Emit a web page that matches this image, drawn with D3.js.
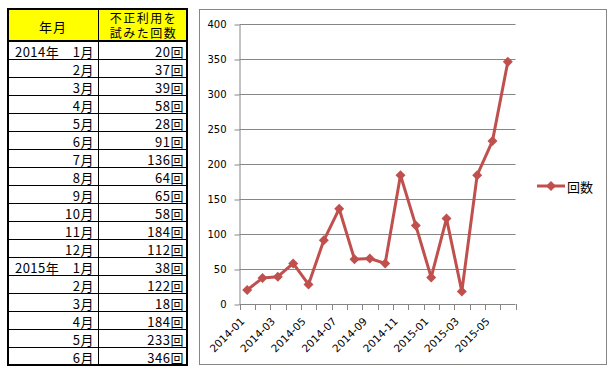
<!DOCTYPE html>
<html lang="ja">
<meta charset="utf-8">
<style>
  body { margin: 0; background: #fff; }
  svg { display: block; }
</style>
<body>
<div id="my_dataviz"></div>

<script src="https://d3js.org/d3.v7.min.js"></script>
<script>

// data
var months = ["2014-01", "2014-02", "2014-03", "2014-04", "2014-05", "2014-06",
              "2014-07", "2014-08", "2014-09", "2014-10", "2014-11", "2014-12",
              "2015-01", "2015-02", "2015-03", "2015-04", "2015-05", "2015-06"]
var rowLabels = ["2014年　1月", "2月", "3月", "4月", "5月", "6月", "7月", "8月", "9月",
                 "10月", "11月", "12月", "2015年　1月", "2月", "3月", "4月", "5月", "6月"]
var counts = [20, 37, 39, 58, 28, 91, 136, 64, 65, 58, 184, 112, 38, 122, 18, 184, 233, 346]
var yTicks = [0, 50, 100, 150, 200, 250, 300, 350, 400]
var seriesName = "回数"

var red = "#C0504D", grid = "#868686"
var jp = "'Noto Sans CJK JP', sans-serif"

var svg = d3.select("#my_dataviz")
  .append("svg")
    .attr("width", 616)
    .attr("height", 375)

// ---------- table ----------
var tbl = {left: 8, right: 187, top: 9, head: 41, bottom: 365, mid: 98}
var rowH = (tbl.bottom - tbl.head) / rowLabels.length

var t = svg.append("g")

t.append("rect")
  .attr("x", tbl.left).attr("y", tbl.top)
  .attr("width", tbl.right - tbl.left).attr("height", tbl.head - tbl.top)
  .attr("fill", "#FFFF00")

// row lines
rowLabels.forEach(function(d, i) {
  if (i == 0) return
  var y = Math.round(tbl.head + i * rowH) + 0.5
  t.append("line")
    .attr("x1", tbl.left).attr("x2", tbl.right)
    .attr("y1", y).attr("y2", y)
    .attr("stroke", "#000").attr("stroke-width", 1)
})
t.append("line")
  .attr("x1", tbl.left).attr("x2", tbl.right)
  .attr("y1", tbl.head).attr("y2", tbl.head)
  .attr("stroke", "#000").attr("stroke-width", 2)
t.append("line")
  .attr("x1", tbl.mid + 0.5).attr("x2", tbl.mid + 0.5)
  .attr("y1", tbl.top).attr("y2", tbl.bottom)
  .attr("stroke", "#000").attr("stroke-width", 1)
t.append("rect")
  .attr("x", tbl.left).attr("y", tbl.top)
  .attr("width", tbl.right - tbl.left).attr("height", tbl.bottom - tbl.top)
  .attr("fill", "none").attr("stroke", "#000").attr("stroke-width", 2)

// header text
t.append("text")
  .attr("x", (tbl.left + tbl.mid) / 2).attr("y", 26)
  .attr("text-anchor", "middle").attr("dominant-baseline", "central")
  .style("font-family", jp).style("font-size", "13px")
  .style("letter-spacing", "1px")
  .text("年月")
t.selectAll(".hd2")
  .data(["不正利用を", "試みた回数"])
  .enter().append("text")
    .attr("x", (tbl.mid + tbl.right) / 2 + 1)
    .attr("y", function(d, i) { return 17 + i * 15.5 })
    .attr("text-anchor", "middle").attr("dominant-baseline", "central")
    .style("font-family", jp).style("font-size", "12px")
    .style("letter-spacing", "1.5px")
    .text(function(d) { return d })

// body text
t.selectAll(".lbl")
  .data(rowLabels)
  .enter().append("text")
    .attr("x", 94)
    .attr("y", function(d, i) { return tbl.head + (i + 0.5) * rowH + 1 })
    .attr("text-anchor", "end").attr("dominant-baseline", "central")
    .style("font-family", jp).style("font-size", "13px")
    .style("letter-spacing", "0.5px")
    .text(function(d) { return d })
t.selectAll(".val")
  .data(counts)
  .enter().append("text")
    .attr("x", 184)
    .attr("y", function(d, i) { return tbl.head + (i + 0.5) * rowH + 1 })
    .attr("text-anchor", "end").attr("dominant-baseline", "central")
    .style("font-family", jp).style("font-size", "13px")
    .style("letter-spacing", "0.5px")
    .text(function(d) { return d + "回" })

// ---------- chart ----------
svg.append("rect")
  .attr("x", 199.5).attr("y", 9.5)
  .attr("width", 407).attr("height", 355)
  .attr("fill", "#fff").attr("stroke", grid).attr("stroke-width", 1)

var plot = {left: 239.5, right: 515.5, top: 24, bottom: 304}

var x = d3.scaleBand()
  .domain(months)
  .range([plot.left, plot.right])

var y = d3.scaleLinear()
  .domain([0, 400])
  .range([plot.bottom, plot.top])

var c = svg.append("g")

// gridlines
c.selectAll(".grid")
  .data(yTicks.slice(1))
  .enter().append("line")
    .attr("x1", plot.left).attr("x2", plot.right)
    .attr("y1", function(d) { return Math.round(y(d)) + 0.5 })
    .attr("y2", function(d) { return Math.round(y(d)) + 0.5 })
    .attr("stroke", grid)

// y axis
var yAxis = c.append("g")
  .attr("transform", "translate(" + plot.left + ",0.5)")
  .call(d3.axisLeft(y).tickValues(yTicks).tickSize(5).tickPadding(8).tickSizeOuter(0))
yAxis.select(".domain").attr("stroke", grid)
yAxis.selectAll(".tick line").attr("stroke", grid)
yAxis.selectAll("text")
  .style("font-family", "'DejaVu Sans', sans-serif").style("font-size", "10px")
  .attr("fill", "#000")

// x axis: ticks at band edges, labels every other month
var edges = months.map(function(m) { return x(m) }).concat([plot.right])
var xg = c.append("g")
xg.append("line")
  .attr("x1", plot.left).attr("x2", plot.right)
  .attr("y1", y(0) + 0.5).attr("y2", y(0) + 0.5)
  .attr("stroke", grid)
xg.selectAll(".xt")
  .data(edges)
  .enter().append("line")
    .attr("x1", function(d) { return Math.round(d) + 0.5 })
    .attr("x2", function(d) { return Math.round(d) + 0.5 })
    .attr("y1", y(0)).attr("y2", y(0) + 6)
    .attr("stroke", grid)
xg.selectAll(".xl")
  .data(months.filter(function(d, i) { return i % 2 == 0 }))
  .enter().append("text")
    .attr("transform", function(d) {
      return "translate(" + (x(d) + x.bandwidth() / 2 - 2) + "," + (y(0) + 18) + ") rotate(-45)"
    })
    .attr("text-anchor", "end")
    .style("font-family", "'DejaVu Sans', sans-serif").style("font-size", "10.5px")
    .text(function(d) { return d })

// line + markers
var line = d3.line()
  .x(function(d, i) { return x(months[i]) + x.bandwidth() / 2 })
  .y(function(d) { return y(d) })

c.append("path")
  .datum(counts)
  .attr("d", line)
  .attr("fill", "none")
  .attr("stroke", red)
  .attr("stroke-width", 3)
  .attr("stroke-linejoin", "round")

var diamond = "M0,-5L5,0L0,5L-5,0Z"
c.selectAll(".pt")
  .data(counts)
  .enter().append("path")
    .attr("d", diamond)
    .attr("transform", function(d, i) {
      return "translate(" + (x(months[i]) + x.bandwidth() / 2) + "," + y(d) + ")"
    })
    .attr("fill", red)

// legend
var lg = svg.append("g").attr("transform", "translate(537,186)")
lg.append("line")
  .attr("x1", 0).attr("x2", 28)
  .attr("stroke", red).attr("stroke-width", 3)
lg.append("path")
  .attr("d", diamond)
  .attr("transform", "translate(14,0)")
  .attr("fill", red)
lg.append("text")
  .attr("x", 30).attr("y", 0)
  .attr("dominant-baseline", "central")
  .style("font-family", jp).style("font-size", "13px")
  .text(seriesName)

</script>
</body>
</html>
